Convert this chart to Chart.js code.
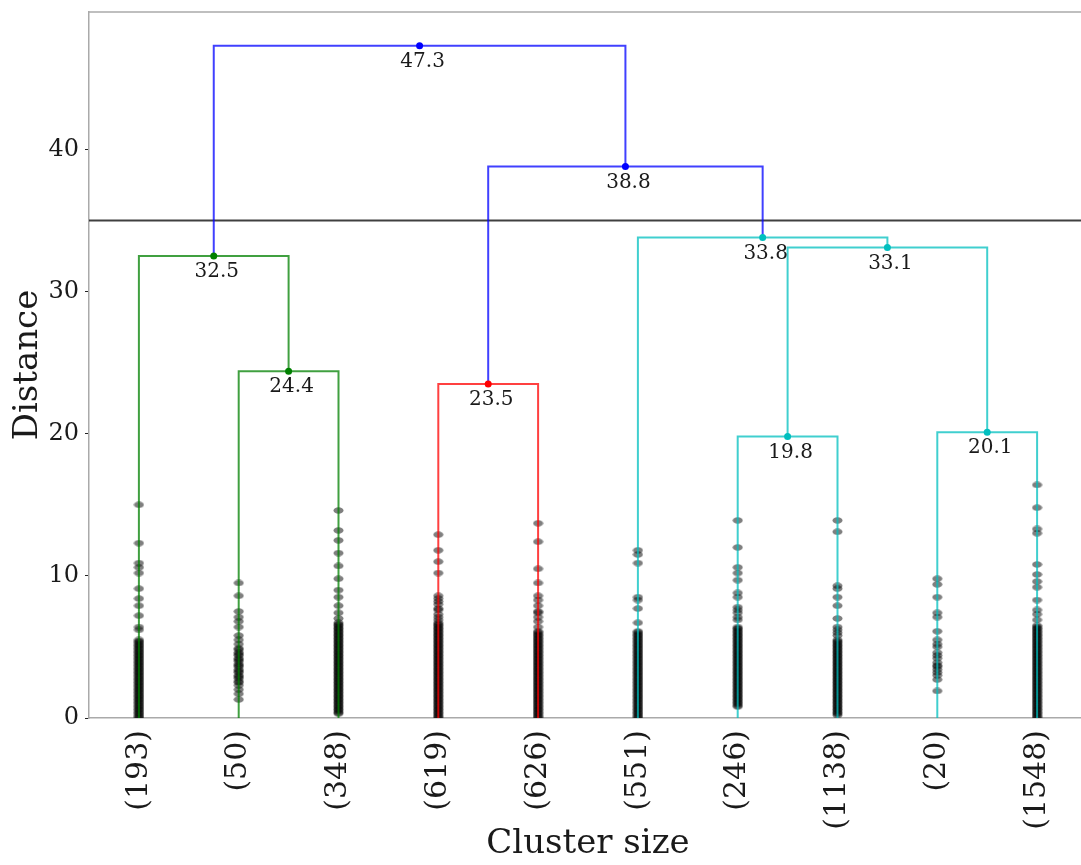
<!DOCTYPE html>
<html>
<head>
<meta charset="utf-8">
<script src="https://cdn.jsdelivr.net/npm/chart.js@4.4.1/dist/chart.umd.min.js"></script>
<style>
  html, body { margin: 0; padding: 0; background: #fff; overflow: hidden; }
  canvas { display: block; }
</style>
</head>
<body>
<canvas id="dendro" width="1095" height="865"></canvas>
<script>
// leaf order and cluster sizes
const leafLabels = ['(193)', '(50)', '(348)', '(619)', '(626)', '(551)', '(246)', '(1138)', '(20)', '(1548)'];
const leafPositions = [5, 15, 25, 35, 45, 55, 65, 75, 85, 95];
const yTicks = [0, 10, 20, 30, 40];

// dendrogram links (scipy style icoord / dcoord)
const icoord = [
    [15, 15, 25, 25],
    [5, 5, 20, 20],
    [35, 35, 45, 45],
    [65, 65, 75, 75],
    [85, 85, 95, 95],
    [70, 70, 90, 90],
    [55, 55, 80, 80],
    [40, 40, 67.5, 67.5],
    [12.5, 12.5, 53.75, 53.75]
];
const dcoord = [
    [0, 24.4, 24.4, 0],
    [0, 32.5, 32.5, 24.4],
    [0, 23.5, 23.5, 0],
    [0, 19.8, 19.8, 0],
    [0, 20.1, 20.1, 0],
    [19.8, 33.1, 33.1, 20.1],
    [0, 33.8, 33.8, 33.1],
    [23.5, 38.8, 38.8, 33.8],
    [32.5, 47.3, 47.3, 38.8]
];
const linkColors = ['g', 'g', 'r', 'c', 'c', 'c', 'c', 'b', 'b'];
const cutHeight = 35;

// distances of the members of each leaf cluster
const leafDistances = [
    [15.0, 12.3, 10.9, 10.6, 10.2, 9.1, 8.4, 7.9, 7.2, 6.4, 6.2,
     5.5, 5.4, 5.3, 5.2, 5.1, 5.0, 4.9, 4.8, 4.7, 4.6, 4.5, 4.4, 4.3, 4.2, 4.1, 4.0,
     3.9, 3.8, 3.7, 3.6, 3.5, 3.4, 3.3, 3.2, 3.1, 3.0, 2.9, 2.8, 2.7, 2.6, 2.5, 2.4,
     2.3, 2.2, 2.1, 2.0, 1.9, 1.8, 1.7, 1.6, 1.5, 1.4, 1.3, 1.2, 1.1, 1.0, 0.9, 0.8,
     0.7, 0.6, 0.5, 0.4, 0.3, 0.2, 0.1, 0.0],
    [9.5, 8.6, 7.5, 7.1, 6.8, 6.4, 5.8, 5.5, 5.2, 4.9, 4.8, 4.6, 4.5, 4.4, 4.2, 4.1,
     4.0, 3.8, 3.7, 3.6, 3.4, 3.3, 3.2, 3.0, 2.9, 2.8, 2.6, 2.5, 2.3, 2.0, 1.7, 1.3],
    [14.6, 13.2, 12.5, 11.6, 10.7, 9.8, 9.0, 8.5, 7.9, 7.4, 7.0,
     6.7, 6.6, 6.5, 6.4, 6.3, 6.2, 6.1, 6.0, 5.9, 5.8, 5.7, 5.6, 5.5, 5.4, 5.3, 5.2,
     5.1, 5.0, 4.9, 4.8, 4.7, 4.6, 4.5, 4.4, 4.3, 4.2, 4.1, 4.0, 3.9, 3.8, 3.7, 3.6,
     3.5, 3.4, 3.3, 3.2, 3.1, 3.0, 2.9, 2.8, 2.7, 2.6, 2.5, 2.4, 2.3, 2.2, 2.1, 2.0,
     1.9, 1.8, 1.7, 1.6, 1.5, 1.4, 1.3, 1.2, 1.1, 1.0, 0.9, 0.8, 0.7, 0.6, 0.5, 0.4, 0.3],
    [12.9, 11.8, 11.0, 10.2, 8.6, 8.4, 8.2, 8.0, 7.7, 7.6, 7.3, 7.1, 6.9,
     6.7, 6.6, 6.5, 6.4, 6.3, 6.2, 6.1, 6.0, 5.9, 5.8, 5.7, 5.6, 5.5, 5.4, 5.3, 5.2,
     5.1, 5.0, 4.9, 4.8, 4.7, 4.6, 4.5, 4.4, 4.3, 4.2, 4.1, 4.0, 3.9, 3.8, 3.7, 3.6,
     3.5, 3.4, 3.3, 3.2, 3.1, 3.0, 2.9, 2.8, 2.7, 2.6, 2.5, 2.4, 2.3, 2.2, 2.1, 2.0,
     1.9, 1.8, 1.7, 1.6, 1.5, 1.4, 1.3, 1.2, 1.1, 1.0, 0.9, 0.8, 0.7, 0.6, 0.5, 0.4,
     0.3, 0.2, 0.1, 0.0],
    [13.7, 12.4, 10.5, 9.5, 8.6, 8.3, 7.9, 7.5, 7.4, 7.1, 6.8, 6.4,
     6.1, 6.0, 5.9, 5.8, 5.7, 5.6, 5.5, 5.4, 5.3, 5.2, 5.1, 5.0, 4.9, 4.8, 4.7, 4.6,
     4.5, 4.4, 4.3, 4.2, 4.1, 4.0, 3.9, 3.8, 3.7, 3.6, 3.5, 3.4, 3.3, 3.2, 3.1, 3.0,
     2.9, 2.8, 2.7, 2.6, 2.5, 2.4, 2.3, 2.2, 2.1, 2.0, 1.9, 1.8, 1.7, 1.6, 1.5, 1.4,
     1.3, 1.2, 1.1, 1.0, 0.9, 0.8, 0.7, 0.6, 0.5, 0.4, 0.3, 0.2, 0.1, 0.0],
    [11.8, 11.5, 10.9, 8.5, 8.3, 7.7, 6.7,
     6.1, 6.0, 5.9, 5.8, 5.7, 5.6, 5.5, 5.4, 5.3, 5.2, 5.1, 5.0, 4.9, 4.8, 4.7, 4.6,
     4.5, 4.4, 4.3, 4.2, 4.1, 4.0, 3.9, 3.8, 3.7, 3.6, 3.5, 3.4, 3.3, 3.2, 3.1, 3.0,
     2.9, 2.8, 2.7, 2.6, 2.5, 2.4, 2.3, 2.2, 2.1, 2.0, 1.9, 1.8, 1.7, 1.6, 1.5, 1.4,
     1.3, 1.2, 1.1, 1.0, 0.9, 0.8, 0.7, 0.6, 0.5, 0.4, 0.3, 0.2, 0.1, 0.0],
    [13.9, 12.0, 10.6, 10.2, 9.7, 8.8, 8.5, 7.8, 7.6, 7.4, 7.1, 6.9,
     6.4, 6.3, 6.2, 6.1, 6.0, 5.9, 5.8, 5.7, 5.6, 5.5, 5.4, 5.3, 5.2, 5.1, 5.0, 4.9,
     4.8, 4.7, 4.6, 4.5, 4.4, 4.3, 4.2, 4.1, 4.0, 3.9, 3.8, 3.7, 3.6, 3.5, 3.4, 3.3,
     3.2, 3.1, 3.0, 2.9, 2.8, 2.7, 2.6, 2.5, 2.4, 2.3, 2.2, 2.1, 2.0, 1.9, 1.8, 1.7,
     1.6, 1.5, 1.4, 1.3, 1.2, 1.1, 1.0, 0.9, 0.8],
    [13.9, 13.1, 9.3, 9.1, 8.5, 7.9, 7.0, 6.4, 6.2, 6.0, 5.8,
     5.5, 5.4, 5.3, 5.2, 5.1, 5.0, 4.9, 4.8, 4.7, 4.6, 4.5, 4.4, 4.3, 4.2, 4.1, 4.0,
     3.9, 3.8, 3.7, 3.6, 3.5, 3.4, 3.3, 3.2, 3.1, 3.0, 2.9, 2.8, 2.7, 2.6, 2.5, 2.4,
     2.3, 2.2, 2.1, 2.0, 1.9, 1.8, 1.7, 1.6, 1.5, 1.4, 1.3, 1.2, 1.1, 1.0, 0.9, 0.8,
     0.7, 0.6, 0.5, 0.4, 0.3, 0.2],
    [9.8, 9.4, 8.5, 7.4, 7.1, 6.1, 5.5, 5.2, 5.0, 4.6, 4.4, 4.2, 3.9, 3.7, 3.6, 3.4,
     3.2, 3.0, 2.7, 1.9],
    [16.4, 14.8, 13.3, 13.0, 10.8, 10.1, 9.6, 9.2, 8.3, 7.6, 7.3, 6.9,
     6.5, 6.4, 6.3, 6.2, 6.1, 6.0, 5.9, 5.8, 5.7, 5.6, 5.5, 5.4, 5.3, 5.2, 5.1, 5.0,
     4.9, 4.8, 4.7, 4.6, 4.5, 4.4, 4.3, 4.2, 4.1, 4.0, 3.9, 3.8, 3.7, 3.6, 3.5, 3.4,
     3.3, 3.2, 3.1, 3.0, 2.9, 2.8, 2.7, 2.6, 2.5, 2.4, 2.3, 2.2, 2.1, 2.0, 1.9, 1.8,
     1.7, 1.6, 1.5, 1.4, 1.3, 1.2, 1.1, 1.0, 0.9, 0.8, 0.7, 0.6, 0.5, 0.4, 0.3, 0.2,
     0.1, 0.0]
];

const yMax = 49.67;

const lineColor = {
    g: 'rgba(0, 128, 0, 0.75)',
    r: 'rgba(255, 0, 0, 0.75)',
    c: 'rgba(0, 191, 191, 0.75)',
    b: 'rgba(0, 0, 255, 0.75)'
};
const dotColor = { g: '#008000', r: '#ff0000', c: '#00bfbf', b: '#0000ff' };
const serif = '"DejaVu Serif", serif';

// ellipse marker like the one in the picture
const marker = document.createElement('canvas');
marker.width = 11;
marker.height = 7;
(function () {
    const c = marker.getContext('2d');
    c.fillStyle = 'rgba(0, 0, 0, 0.5)';
    c.beginPath();
    c.ellipse(5.5, 3.5, 5, 3.2, 0, 0, Math.PI * 2);
    c.fill();
})();

const datasets = [];

// merge dots
datasets.push({
    data: icoord.map((xs, i) => ({ x: (xs[1] + xs[2]) / 2, y: dcoord[i][1] })),
    pointRadius: 3.5,
    pointBorderWidth: 0,
    pointBackgroundColor: linkColors.map(k => dotColor[k]),
    order: 0
});

// links
icoord.forEach((xs, i) => {
    datasets.push({
        data: xs.map((xv, j) => ({ x: xv, y: dcoord[i][j] })),
        showLine: true,
        borderColor: lineColor[linkColors[i]],
        borderWidth: 2,
        pointRadius: 0,
        tension: 0,
        order: 1
    });
});

// cut line
datasets.push({
    data: [{ x: 0, y: cutHeight }, { x: 100, y: cutHeight }],
    showLine: true,
    borderColor: 'rgba(0, 0, 0, 0.75)',
    borderWidth: 2,
    pointRadius: 0,
    order: 2
});

// leaf members
leafDistances.forEach((vals, i) => {
    datasets.push({
        data: vals.map(v => ({ x: leafPositions[i], y: v })),
        pointStyle: marker,
        pointRadius: 5,
        order: 3
    });
});

const mergeLabels = {
    id: 'mergeLabels',
    afterDatasetsDraw(chart) {
        const { ctx, scales: { x, y } } = chart;
        ctx.save();
        ctx.font = '20px ' + serif;
        ctx.fillStyle = '#1a1a1a';
        ctx.textAlign = 'center';
        ctx.textBaseline = 'alphabetic';
        icoord.forEach((xs, i) => {
            const cx = (xs[1] + xs[2]) / 2;
            const h = dcoord[i][1];
            ctx.fillText(h.toFixed(1), x.getPixelForValue(cx) + 3, y.getPixelForValue(h) + 21);
        });
        ctx.restore();
    }
};

const frame = {
    id: 'frame',
    afterDraw(chart) {
        const { ctx, chartArea: a } = chart;
        ctx.save();
        ctx.strokeStyle = '#aaaaaa';
        ctx.lineWidth = 1.5;
        ctx.beginPath();
        ctx.moveTo(a.left, a.top);
        ctx.lineTo(a.right, a.top);
        ctx.lineTo(a.right, a.bottom);
        ctx.stroke();
        ctx.restore();
    }
};

new Chart(document.getElementById('dendro'), {
    type: 'scatter',
    data: { datasets },
    options: {
        responsive: false,
        animation: false,
        layout: { padding: { top: 12, right: 8, left: 0, bottom: 0 } },
        plugins: {
            legend: { display: false },
            tooltip: { enabled: false }
        },
        scales: {
            x: {
                type: 'linear',
                min: 0,
                max: 100,
                afterFit(scale) {
                    scale.height = 147;
                    scale.paddingLeft = 0;
                    scale.paddingRight = 0;
                },
                afterBuildTicks(scale) {
                    scale.ticks = leafPositions.map(v => ({ value: v }));
                },
                grid: { display: false, drawTicks: false },
                border: { display: true, color: '#aaaaaa', width: 1.5 },
                ticks: {
                    autoSkip: false,
                    minRotation: 90,
                    maxRotation: 90,
                    padding: 12,
                    color: '#1a1a1a',
                    font: { family: serif, size: 30 },
                    callback: function (value) {
                        const k = leafPositions.indexOf(value);
                        return k >= 0 ? leafLabels[k] : '';
                    }
                },
                title: {
                    display: true,
                    text: 'Cluster size',
                    color: '#1a1a1a',
                    font: { family: serif, size: 34 },
                    padding: { top: 0, bottom: 0 }
                }
            },
            y: {
                min: 0,
                max: yMax,
                afterFit(scale) {
                    scale.width = 89;
                    scale.paddingTop = 0;
                    scale.paddingBottom = 0;
                },
                afterBuildTicks(scale) {
                    scale.ticks = yTicks.map(v => ({ value: v }));
                },
                grid: {
                    display: true,
                    drawOnChartArea: false,
                    drawTicks: true,
                    tickLength: 4,
                    tickColor: '#222222',
                    tickWidth: 1
                },
                border: { display: true, color: '#aaaaaa', width: 1.5 },
                ticks: {
                    padding: 6,
                    color: '#1a1a1a',
                    font: { family: serif, size: 24 }
                },
                title: {
                    display: true,
                    text: 'Distance',
                    color: '#1a1a1a',
                    font: { family: serif, size: 34 },
                    padding: { top: 8, bottom: 0 }
                }
            }
        }
    },
    plugins: [mergeLabels, frame]
});
</script>
</body>
</html>
